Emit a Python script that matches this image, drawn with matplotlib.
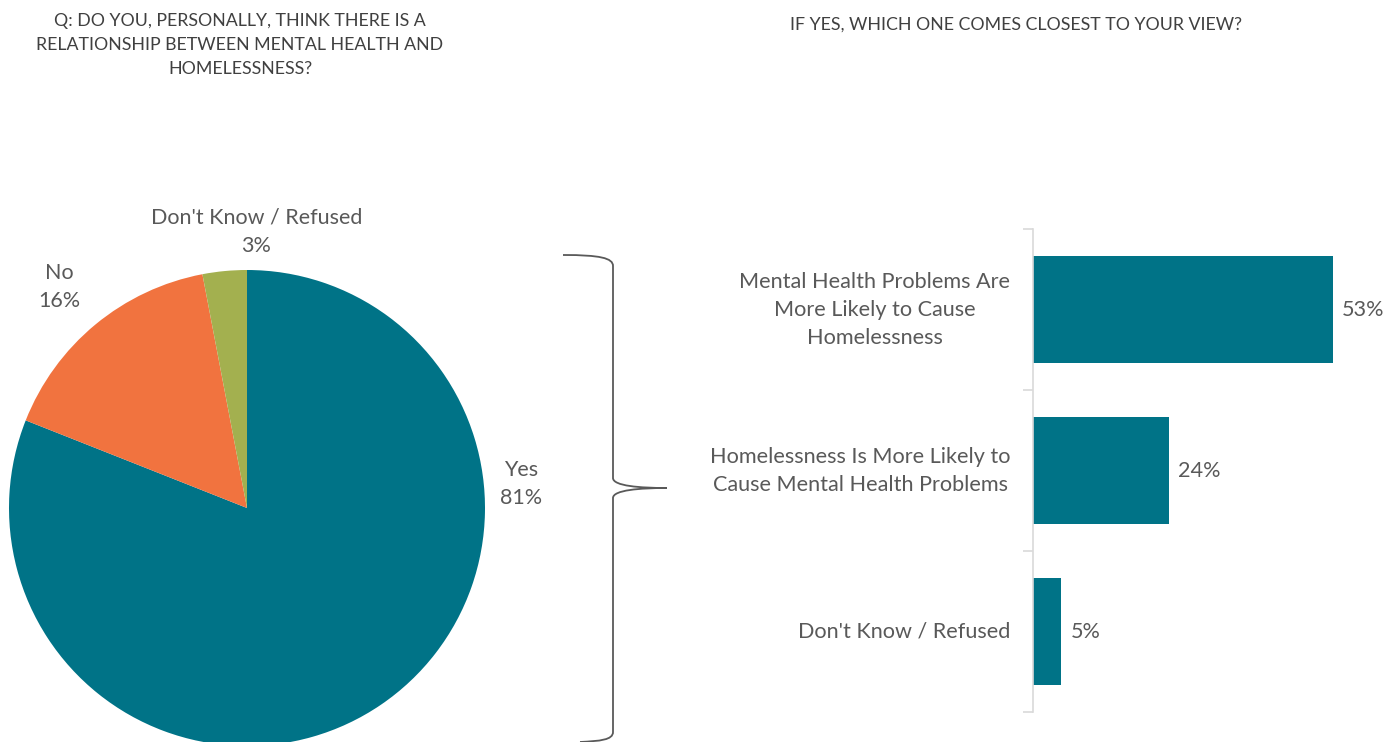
import matplotlib.pyplot as plt
from matplotlib.path import Path
from matplotlib.patches import PathPatch
from matplotlib.transforms import Affine2D

plt.rcParams["font.family"] = ["Lato", "DejaVu Sans"]

# Pie: relationship between mental health and homelessness
pie_labels = ["Yes", "No", "Don't Know / Refused"]
pie_values = [81, 16, 3]
pie_colors = ["#007387", "#F1733F", "#A3B04F"]

# Bars: which view comes closest (asked of "Yes" respondents)
bar_labels = [
    "Mental Health Problems Are\nMore Likely to Cause\nHomelessness",
    "Homelessness Is More Likely to\nCause Mental Health Problems",
    "Don't Know / Refused",
]
bar_values = [53, 24, 5]

TEXT = "#595959"
TITLE = "#404040"
W, H = 1400, 742

fig = plt.figure(figsize=(W / 100, H / 100), dpi=100)


def box(x0, y0, x1, y1):
    # pixel box (top-left origin) -> figure fraction rect
    return [x0 / W, (H - y1) / H, (x1 - x0) / W, (y1 - y0) / H]


# --- pie ---
ax_pie = fig.add_axes(box(9, 270, 485, 746))
wedges, _ = ax_pie.pie(pie_values, colors=pie_colors, startangle=90,
                       counterclock=False, radius=1.0,
                       wedgeprops=dict(linewidth=0))
ax_pie.set_xlim(-1, 1)
ax_pie.set_ylim(-1, 1)
ax_pie.set_aspect("equal")
ax_pie.axis("off")
for w in wedges:
    w.set_clip_on(False)

pie_label_pos = [(1.15, 0.1), (-0.79, 0.93), (0.04, 1.16)]
for lab, val, (lx, ly) in zip(pie_labels, pie_values, pie_label_pos):
    ax_pie.text(lx, ly, f"{lab}\n{val}%", ha="center", va="center",
                fontsize=15.5, color=TEXT, linespacing=1.5, clip_on=False)

fig.text(240 / W, 1 - 45 / H,
         "Q: DO YOU, PERSONALLY, THINK THERE IS A\n"
         "RELATIONSHIP BETWEEN MENTAL HEALTH AND\nHOMELESSNESS?",
         ha="center", va="center", fontsize=12.8, color=TITLE, linespacing=1.6)

# --- curly brace linking "Yes" to the bar chart ---
verts = [
    (563, 255), (600, 255), (613, 258), (613, 266),
    (613, 478),
    (613, 486), (640, 488), (667, 488),
    (640, 488), (613, 490), (613, 498),
    (613, 732),
    (613, 740), (600, 741), (580, 742),
]
codes = [Path.MOVETO, Path.CURVE4, Path.CURVE4, Path.CURVE4,
         Path.LINETO,
         Path.CURVE4, Path.CURVE4, Path.CURVE4,
         Path.CURVE4, Path.CURVE4, Path.CURVE4,
         Path.LINETO,
         Path.CURVE4, Path.CURVE4, Path.CURVE4]
to_fig = Affine2D().scale(1, -1).translate(0, H) + fig.dpi_scale_trans.frozen().scale(1 / 100)
brace = PathPatch(Path(verts, codes), transform=to_fig, fill=False,
                  edgecolor="#595959", linewidth=1.3)
fig.add_artist(brace)

# --- bars ---
ax_bar = fig.add_axes(box(1033, 229, 1400, 712))
ypos = list(range(len(bar_values)))
ax_bar.barh(ypos, bar_values, height=0.665, color="#007387")
ax_bar.set_xlim(0, 367 / (300 / 53))
ax_bar.set_ylim(len(bar_values) - 0.5, -0.5)
for y, v in zip(ypos, bar_values):
    ax_bar.text(v + 1.6, y, f"{v}%", ha="left", va="center",
                fontsize=15.6, color=TEXT)
    ax_bar.text(-4.0, y, bar_labels[y], ha="right", va="center",
                multialignment="center", fontsize=15.6, color=TEXT,
                linespacing=1.5)

for side in ["top", "right", "bottom"]:
    ax_bar.spines[side].set_visible(False)
ax_bar.spines["left"].set_color("#D9D9D9")
ax_bar.spines["left"].set_linewidth(1.2)
ax_bar.set_xticks([])
ax_bar.set_yticks([y - 0.5 for y in range(len(bar_values) + 1)])
ax_bar.set_yticklabels([])
ax_bar.tick_params(axis="y", length=7, width=1.2, color="#D9D9D9")

fig.text(1016 / W, 1 - 25 / H, "IF YES, WHICH ONE COMES CLOSEST TO YOUR VIEW?",
         ha="center", va="center", fontsize=12.8, color=TITLE)

fig.savefig("out.png", dpi=100)
